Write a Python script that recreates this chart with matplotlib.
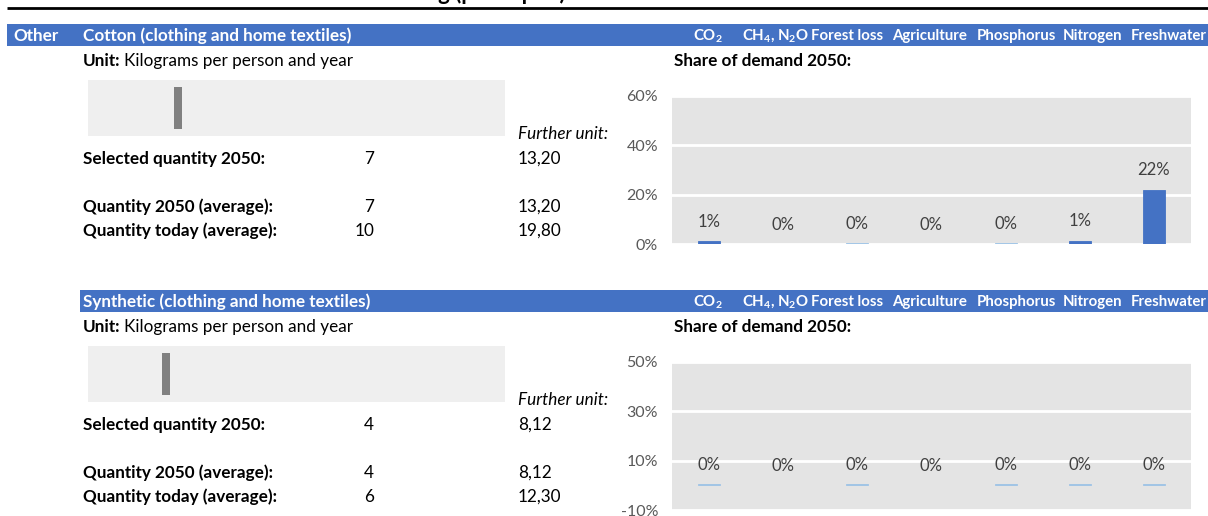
import matplotlib
matplotlib.use("Agg")
import matplotlib.pyplot as plt
import numpy as np
from matplotlib.patches import Rectangle
from matplotlib.ticker import PercentFormatter

W, H = 1208, 516
FONT = ["Lato", "DejaVu Sans"]
BLUE = "#4472C4"
LIGHT_BLUE = "#9DC3E6"
PLOT_BG = "#E4E4E4"
FS = 12.3

categories = [r"$CO_2$", r"$CH_4$, $N_2O$", "Forest loss", "Agriculture", "Phosphorus", "Nitrogen", "Freshwater"]

cotton_title = "Cotton (clothing and home textiles)"
cotton_selected = 7
cotton_avg_2050 = 7
cotton_avg_today = 10
cotton_further = ["13,20", "13,20", "19,80"]
cotton_share = [0.012, 0.0, 0.004, 0.0, 0.004, 0.014, 0.22]
cotton_colors = [BLUE, "none", LIGHT_BLUE, "none", LIGHT_BLUE, BLUE, BLUE]

synth_title = "Synthetic (clothing and home textiles)"
synth_selected = 4
synth_avg_2050 = 4
synth_avg_today = 6
synth_further = ["8,12", "8,12", "12,30"]
synth_share = [0.004, 0.0, 0.004, 0.0, 0.004, 0.004, 0.004]
synth_colors = [LIGHT_BLUE, "none", LIGHT_BLUE, "none", LIGHT_BLUE, LIGHT_BLUE, LIGHT_BLUE]

plt.rcParams["font.family"] = FONT
plt.rcParams["axes.unicode_minus"] = False
plt.rcParams["mathtext.fontset"] = "custom"
plt.rcParams["mathtext.rm"] = "Lato:bold"
plt.rcParams["mathtext.it"] = "Lato:bold"
plt.rcParams["mathtext.default"] = "rm"

fig = plt.figure(figsize=(W / 100, H / 100), dpi=100)
bg = fig.add_axes([0, 0, 1, 1])
bg.set_xlim(0, W)
bg.set_ylim(H, 0)
bg.axis("off")


def px_rect(x0, y0, x1, y1):
    return [x0 / W, 1 - y1 / H, (x1 - x0) / W, (y1 - y0) / H]


# cut-off sheet title and rule
bg.text(566, 0.5, "Clothing (per capita)", ha="right", va="baseline",
        fontsize=16, fontweight="bold", color="black")
bg.plot([7, W], [8, 8], color="black", lw=2, solid_capstyle="butt")

header_x = [693, 742, 811, 892, 977, 1063, 1131]


def panel(y0, band_x0, section, title, selected, avg_2050, avg_today, further,
          share, colors, ylim, yticks):
    # blue header band
    bg.add_patch(Rectangle((band_x0, y0 - 11), W - band_x0, 22, color=BLUE, lw=0))
    if section:
        bg.text(13, y0 + 1, section, color="white", fontweight="bold", fontsize=FS, va="center")
    bg.text(83, y0 + 1, title, color="white", fontweight="bold", fontsize=FS, va="center")
    for hx, lab in zip(header_x, categories):
        bg.text(hx, y0 + 1, lab, color="white", fontweight="bold", fontsize=10.8, va="center")

    bg.text(83, y0 + 26, "Unit:", fontweight="bold", fontsize=FS, va="center")
    bg.text(124, y0 + 26, "Kilograms per person and year", fontsize=FS, va="center")
    bg.text(674, y0 + 26, "Share of demand 2050:", fontweight="bold", fontsize=FS, va="center")

    # slider
    sl = fig.add_axes(px_rect(88, y0 + 45, 505, y0 + 101))
    sl.set_facecolor("#EFEFEF")
    sl.set_xlim(-15.5, 88.75)
    sl.set_ylim(0, 1)
    sl.bar([selected], [0.76], bottom=0.12, width=2.1, color="#808080")
    sl.set_xticks([])
    sl.set_yticks([])
    for s in sl.spines.values():
        s.set_visible(False)

    bg.text(518, y0 + 99, "Further unit:", fontstyle="italic", fontsize=FS, va="center")
    rows = [("Selected quantity 2050:", selected, 124),
            ("Quantity 2050 (average):", avg_2050, 172),
            ("Quantity today (average):", avg_today, 196)]
    for (label, val, dy), fu in zip(rows, further):
        bg.text(83, y0 + dy, label, fontweight="bold", fontsize=FS, va="center")
        bg.text(374, y0 + dy, str(val), fontsize=FS, va="center", ha="right")
        bg.text(518, y0 + dy, fu, fontsize=FS, va="center")

    # share-of-demand bar chart
    ax = fig.add_axes(px_rect(672, y0 + 61, 1191, y0 + 209))
    ax.set_facecolor(PLOT_BG)
    x = np.arange(len(categories))
    ax.bar(x, share, width=0.3, color=colors, edgecolor=colors, linewidth=0.6, zorder=3)
    ax.set_xlim(-0.5, len(categories) - 0.5)
    ax.set_ylim(*ylim)
    ax.set_yticks(yticks)
    ax.yaxis.set_major_formatter(PercentFormatter(1.0, decimals=0))
    ax.tick_params(axis="y", length=0, pad=10, labelsize=11.5, labelcolor="#595959")
    ax.set_xticks([])
    ax.grid(axis="y", color="white", lw=2, zorder=1)
    for s in ax.spines.values():
        s.set_visible(False)
    for xi, v in zip(x, share):
        ax.annotate(f"{v:.0%}", (xi, max(v, 0)), xytext=(0, 14), textcoords="offset points",
                    ha="center", va="center", fontsize=12, color="#404040")


panel(35, 7, "Other", cotton_title, cotton_selected, cotton_avg_2050, cotton_avg_today,
      cotton_further, cotton_share, cotton_colors, (0, 0.6), [0, 0.2, 0.4, 0.6])
panel(301, 80, None, synth_title, synth_selected, synth_avg_2050, synth_avg_today,
      synth_further, synth_share, synth_colors, (-0.1, 0.5), [-0.1, 0.1, 0.3, 0.5])

fig.savefig("out.png", dpi=100)
